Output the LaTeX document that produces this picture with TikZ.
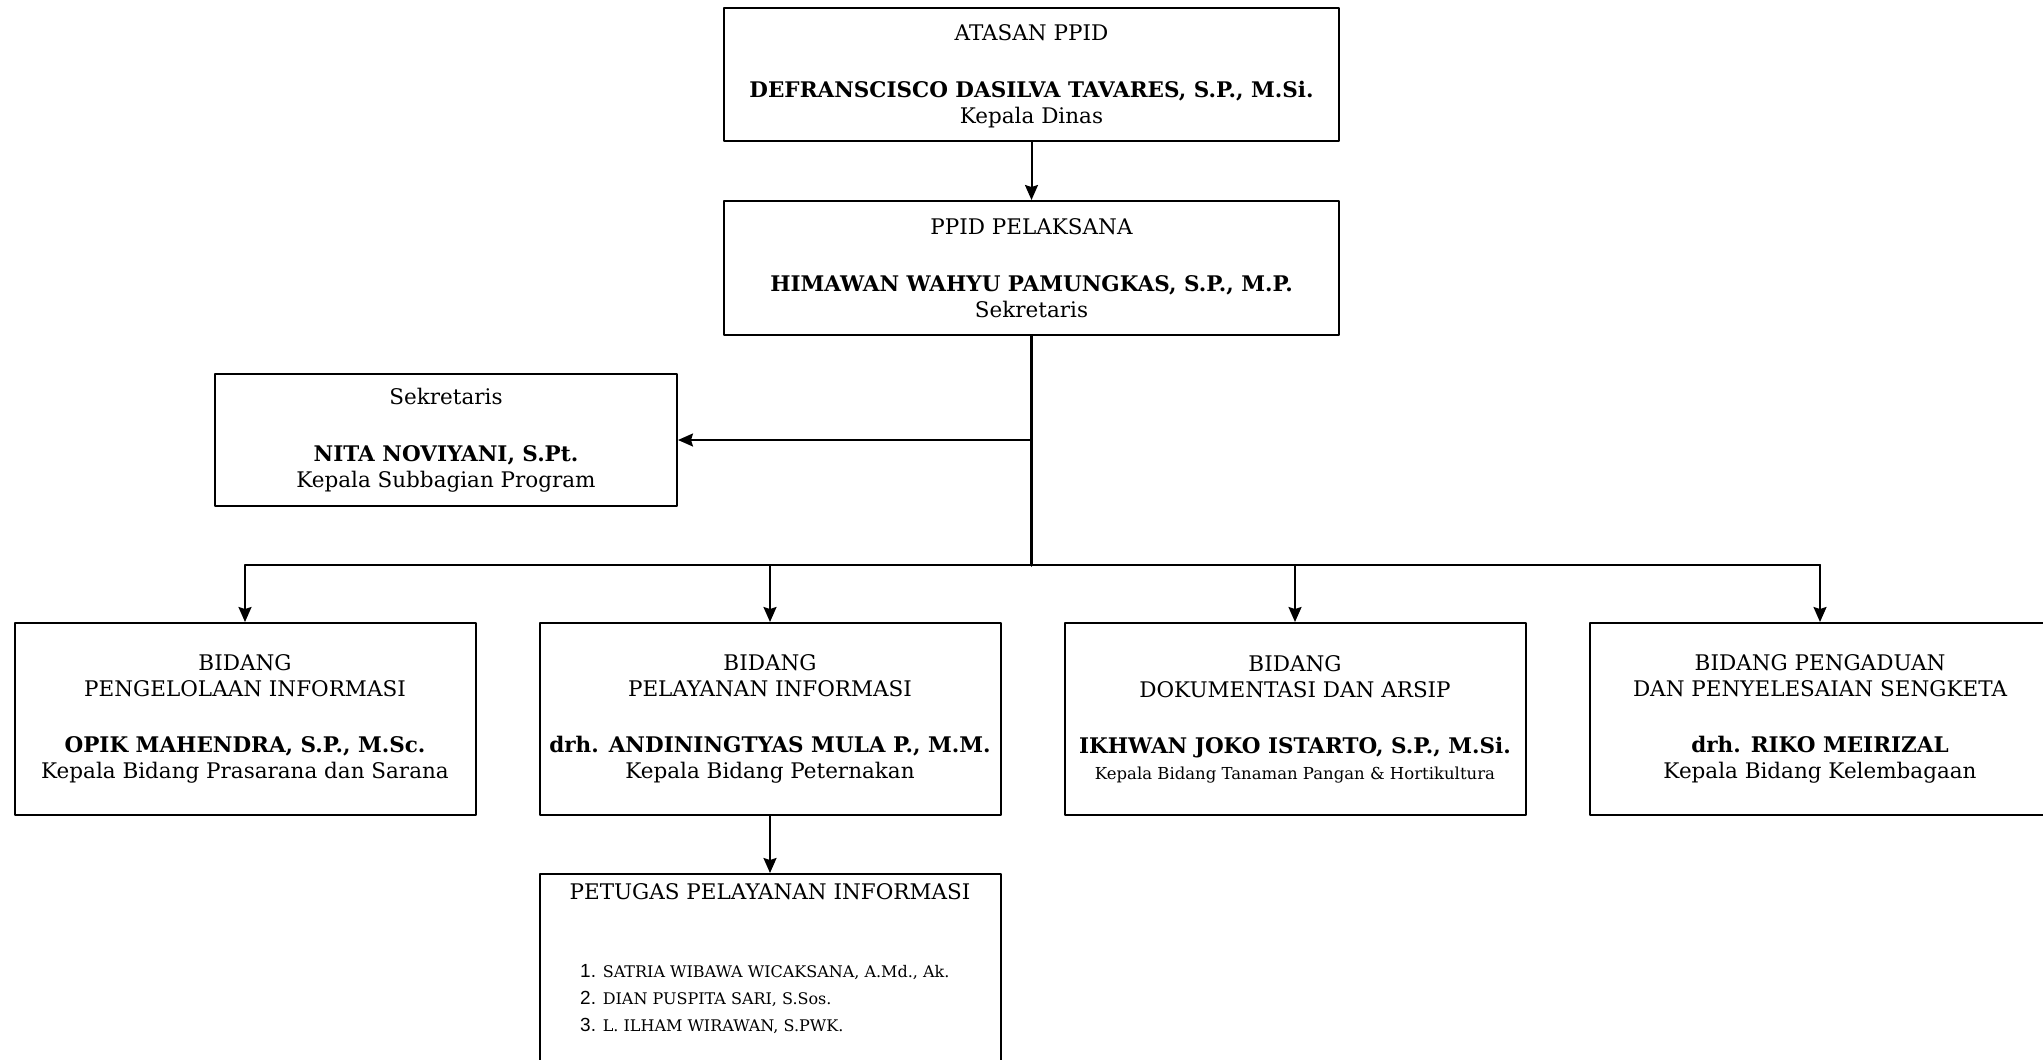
\documentclass[tikz,border=0pt]{standalone}
\usepackage{fontspec}
\setmainfont{DejaVu Serif}
\newfontfamily\angka{Liberation Sans}
\usetikzlibrary{arrows.meta,positioning}
\begin{document}
\begin{tikzpicture}[x=1pt,y=-1pt,line cap=round,line join=round,>={Stealth[length=15pt,width=13pt,inset=2pt]},
  kotak/.style={draw,line width=2pt,align=center,inner sep=0pt,font=\fontsize{21.5}{26}\selectfont},
  bidang/.style={kotak,minimum width=461pt,minimum height=192pt},
  panah/.style={->,line width=2pt},
  batang/.style={line width=3.6pt}]
\useasboundingbox (0,0) rectangle (2043,1060);
\clip (0,0) rectangle (2043,1060);
%% Atasan dan pelaksana
\node[kotak,minimum width=615pt,minimum height=133pt,text depth=0pt] (atasan) at (1031.5,74.5) {ATASAN PPID\\[31pt]\textbf{DEFRANSCISCO DASILVA TAVARES, S.P., M.Si.}\\Kepala Dinas};
\node[kotak,minimum width=615pt,minimum height=134pt] (pelaksana) at (1031.5,268) {PPID PELAKSANA\\[31pt]\textbf{HIMAWAN WAHYU PAMUNGKAS, S.P., M.P.}\\Sekretaris};
%% Sekretaris
\node[kotak,minimum width=462pt,minimum height=132pt] (sekretaris) at (446,440) {Sekretaris\\[31pt]\textbf{NITA NOVIYANI, S.Pt.}\\Kepala Subbagian Program};
%% Empat bidang
\node[bidang] (bpi) at (245,719) {BIDANG\\PENGELOLAAN INFORMASI\\[30pt]\textbf{OPIK MAHENDRA, S.P., M.Sc.}\\Kepala Bidang Prasarana dan Sarana};
\node[bidang] (bpl) at (770,719) {BIDANG\\PELAYANAN INFORMASI\\[30pt]\textbf{drh. ANDININGTYAS MULA P., M.M.}\\Kepala Bidang Peternakan};
\node[bidang] (bda) at (1295,719) {BIDANG\\DOKUMENTASI DAN ARSIP\\[30pt]\textbf{IKHWAN JOKO ISTARTO, S.P., M.Si.}\\{\fontsize{16.5}{26}\selectfont Kepala Bidang Tanaman Pangan \& Hortikultura}};
\node[bidang] (bps) at (1820,719) {BIDANG PENGADUAN\\DAN PENYELESAIAN SENGKETA\\[30pt]\textbf{drh. RIKO MEIRIZAL}\\Kepala Bidang Kelembagaan};
%% Petugas
\node[kotak,minimum width=461pt,minimum height=220pt,anchor=north] (petugas) at (770,873) {};
\node[font=\fontsize{21.5}{26}\selectfont] (judul) at (770,892) {PETUGAS PELAYANAN INFORMASI};
\node[align=left,inner sep=0pt,anchor=west,font=\fontsize{16}{27}\selectfont] (daftar) at (580,999) {{\angka\fontsize{19}{27}\selectfont 1.} SATRIA WIBAWA WICAKSANA, A.Md., Ak.\\{\angka\fontsize{19}{27}\selectfont 2.} DIAN PUSPITA SARI, S.Sos.\\{\angka\fontsize{19}{27}\selectfont 3.} L. ILHAM WIRAWAN, S.PWK.};
%% Garis
\coordinate (simpang) at (pelaksana.south |- 0,565);
\draw[panah] (atasan) -- (pelaksana);
\draw[batang] (pelaksana.south) -- (simpang);
\draw[panah] (pelaksana.south |- sekretaris.east) -- (sekretaris.east);
\draw[line width=2pt] (bpi.north |- simpang) -- (bps.north |- simpang);
\foreach \b in {bpi,bpl,bda,bps}
\draw[panah] (\b.north |- simpang) -- (\b.north);
\draw[panah] (bpl) -- (petugas);
\end{tikzpicture}
\end{document}
